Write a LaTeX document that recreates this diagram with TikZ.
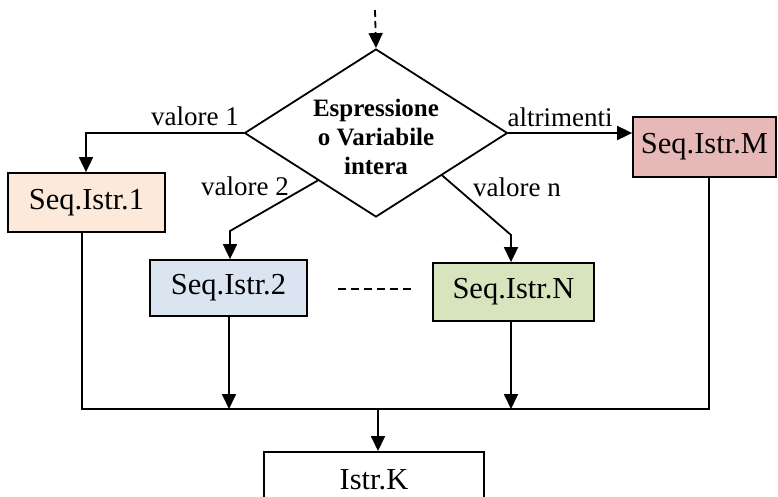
\documentclass[tikz,border=0pt]{standalone}
\usepackage{fontspec}
\setmainfont{Liberation Serif}
\usetikzlibrary{arrows.meta,shapes.geometric,calc}
\definecolor{cpeach}{RGB}{253,233,217}
\definecolor{cred}{RGB}{230,185,184}
\definecolor{cblue}{RGB}{219,229,241}
\definecolor{cgreen}{RGB}{215,228,189}
\tikzset{
  box/.style={draw=black, line width=1.8pt, inner sep=0pt, font=\fontsize{30.5}{34}\selectfont},
  lbl/.style={inner sep=0pt, font=\fontsize{27}{31}\selectfont},
  conn/.style={line width=1.8pt},
  arr/.style={line width=1.8pt, -{Triangle[length=15pt,width=14pt]}},
}
\begin{document}
\begin{tikzpicture}[x=1pt,y=-1pt]
\clip (0,0) rectangle (778,496);
\fill[white] (0,0) rectangle (778,496);
% diamond
\node[diamond, draw=black, line width=1.8pt, minimum width=263pt, minimum height=168pt, inner sep=0pt] (d) at (376,133) {};
\node[inner sep=0pt, align=center, font=\bfseries\fontsize{25}{29}\selectfont] (dt) at (376,137) {Espressione\\o Variabile\\intera};
\coordinate (top) at (375,10);
\draw[arr, dash pattern=on 7pt off 4pt] (top) -- (d.north);
% boxes
\node[box, fill=cpeach, minimum width=157pt, minimum height=59pt] (s1) at (86.5,202.5) {Seq.Istr.1};
\node[box, fill=cblue, minimum width=157pt, minimum height=56pt] (s2) at (228.5,288) {Seq.Istr.2};
\node[box, fill=cgreen, minimum width=161pt, minimum height=58pt] (sn) at (513.5,292) {Seq.Istr.N};
\node[box, fill=cred, minimum width=143pt, minimum height=60pt] (sm) at (704.5,147) {Seq.Istr.M};
\node[box, anchor=north, minimum width=220pt, text height=38pt, text depth=40pt, inner ysep=0pt] (k) at (374,451) {Istr.K};
% labels
\node[lbl] (l1) at (195,116) {valore 1};
\node[lbl] (l2) at (245,186) {valore 2};
\node[lbl] (ln) at (517,187) {valore n};
\node[lbl] (lm) at (560,117) {altrimenti};
% branch connectors
\draw[arr] (d.west) -| ($(s1.north)+(-0.5,0)$);
\draw[arr] (d.east) -- (d.east -| sm.west);
\coordinate (p2) at ($(d.west)!0.56!(d.south)$);
\coordinate (b2) at (230,231);
\draw[arr] (p2) -- (b2) -- (b2 |- s2.north);
\coordinate (pn) at ($(d.east)!0.5!(d.south)$);
\coordinate (bn) at (511,235);
\draw[arr] (pn) -- (bn) -- (bn |- sn.north);
% dots between
\coordinate (da) at (338,289);
\coordinate (db) at (411,289);
\draw[line width=1.4pt, dash pattern=on 8pt off 5pt] (da) -- (db);
% merge
\coordinate (m1) at (82,409);
\coordinate (mm) at (709,409);
\coordinate (m2) at (229,409);
\coordinate (mn) at (511,409);
\coordinate (mk) at (378,409);
\draw[conn] (s1.south -| m1) -- (m1) -- (mm) -- (sm.south -| mm);
\draw[arr] (m2 |- s2.south) -- (m2);
\draw[arr] (mn |- sn.south) -- (mn);
\draw[arr] (mk) -- (mk |- k.north);
\end{tikzpicture}
\end{document}
